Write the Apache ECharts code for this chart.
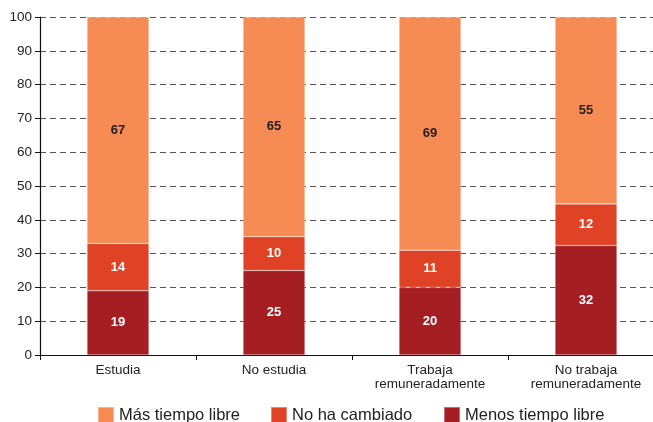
<!DOCTYPE html>
<html>
<head>
<meta charset="utf-8">
<script src="https://cdn.jsdelivr.net/npm/echarts@6/dist/echarts.min.js"></script>
<style>
  html, body { margin: 0; padding: 0; background: #fff; }
  #chart { width: 653px; height: 422px; }
</style>
</head>
<body>
<div id="chart"></div>
<script>
const categories = ['Estudia', 'No estudia', 'Trabaja\nremuneradamente', 'No trabaja\nremuneradamente']
// bar heights; labels show them rounded
const menosTiempo = [19, 25, 20, 32.4]
const noCambiado = [14, 10, 11, 12.3]
const masTiempo = [67, 65, 69, 55.3]
const yTicks = [0, 10, 20, 30, 40, 50, 60, 70, 80, 90, 100]
const legendNames = ['Más tiempo libre', 'No ha cambiado', 'Menos tiempo libre']

const myChart = echarts.init(document.getElementById('chart'))
const font = 'Liberation Sans, Arial, Helvetica, sans-serif'

function barSeries(name, data, color, labelColor) {
  return {
    name: name,
    type: 'bar',
    stack: 'total',
    barWidth: 62,
    data: data,
    itemStyle: { color: color, borderColor: 'rgba(255,255,255,0.35)', borderWidth: 0.6 },
    label: {
      show: true,
      position: 'inside',
      color: labelColor,
      fontFamily: font,
      fontSize: 13,
      fontWeight: 'bold',
      formatter: p => Math.round(p.value)
    }
  }
}

// one legend per item so each sits where it is in the original
function legendAt(name, left) {
  return {
    top: 406,
    left: left,
    padding: 0,
    itemWidth: 16,
    itemHeight: 16,
    itemGap: 3,
    icon: 'rect',
    textStyle: { fontSize: 16.5, color: '#222', fontFamily: font },
    data: [name]
  }
}

const option = {
  animation: false,
  textStyle: { fontFamily: font },
  grid: { left: 40, top: 17, width: 624, height: 338, outerBoundsMode: 'none', containLabel: false },
  legend: [
    legendAt(legendNames[0], 97),
    legendAt(legendNames[1], 270),
    legendAt(legendNames[2], 443)
  ],
  xAxis: {
    type: 'category',
    data: categories,
    axisLine: { lineStyle: { color: '#111', width: 1.2 } },
    axisTick: { show: true, length: 5, lineStyle: { color: '#111' } },
    axisLabel: { color: '#222', fontSize: 13.5, lineHeight: 14, margin: 8 }
  },
  yAxis: {
    type: 'value',
    min: yTicks[0],
    max: yTicks[yTicks.length - 1],
    interval: 10,
    axisLine: { show: true, lineStyle: { color: '#111', width: 1.2 } },
    axisTick: { show: true, length: 5, lineStyle: { color: '#111' } },
    axisLabel: { color: '#222', fontSize: 13.5, margin: 8 },
    splitLine: { lineStyle: { color: '#555', type: [6, 4], width: 1 } }
  },
  series: [
    barSeries('Menos tiempo libre', menosTiempo, '#A51E23', '#fff'),
    barSeries('No ha cambiado', noCambiado, '#E04226', '#fff'),
    barSeries('Más tiempo libre', masTiempo, '#F68B54', '#222')
  ]
}
option && myChart.setOption(option)
</script>
</body>
</html>
